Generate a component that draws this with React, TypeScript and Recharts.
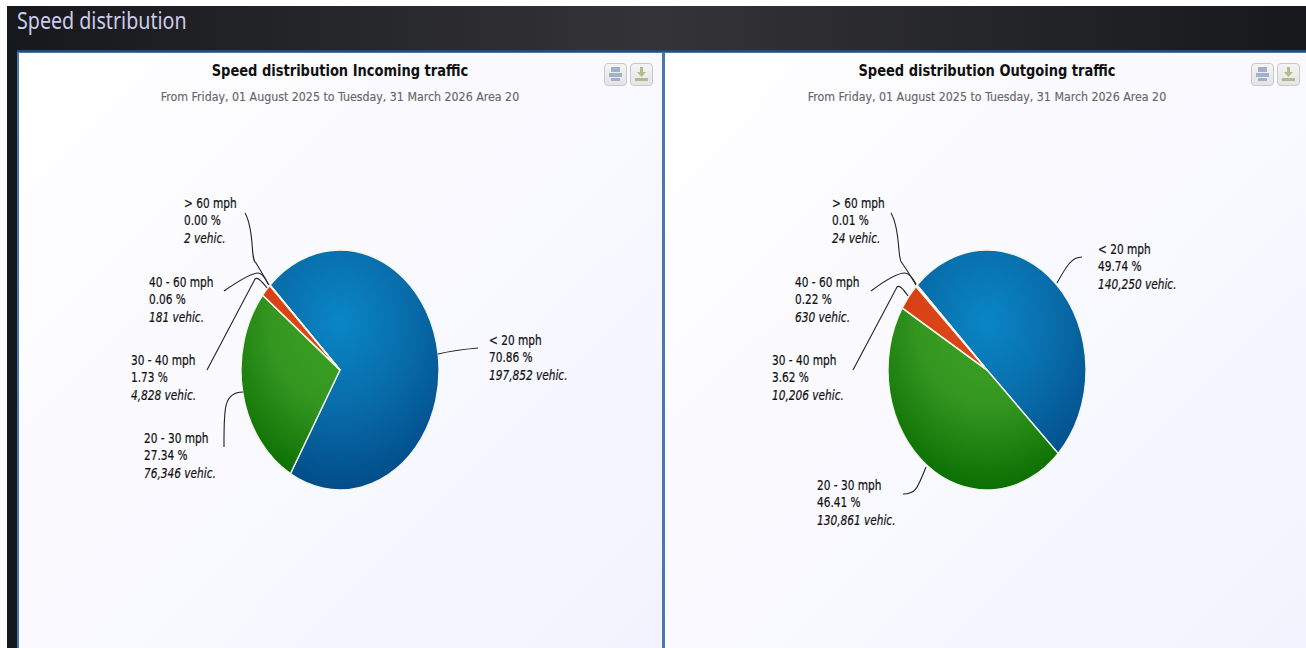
import React from "react";
import { PieChart, Pie, Sector } from "recharts";

const categories = ["< 20 mph", "20 - 30 mph", "30 - 40 mph", "40 - 60 mph", "> 60 mph"];
const incomingVehicles = [197852, 76346, 4828, 181, 2];
const outgoingVehicles = [140250, 130861, 10206, 630, 24];
const incomingPercent = ["70.86", "27.34", "1.73", "0.06", "0.00"];
const outgoingPercent = ["49.74", "46.41", "3.62", "0.22", "0.01"];
const incomingLabels = ["197,852", "76,346", "4,828", "181", "2"];
const outgoingLabels = ["140,250", "130,861", "10,206", "630", "24"];

const FONT = "'DejaVu Sans Condensed', 'DejaVu Sans', sans-serif";
const CX = 322;
const CY = 318;
const RADIUS = 120;
const SQUASH = 0.825;
const GRADS = [
  ["#0a86c6", "#086ca9", "#014b88"],
  ["#3ea224", "#349620", "#086c00"],
  ["#e04818", "#d84216", "#c42c06"],
  ["#e04818", "#d84216", "#c42c06"],
  ["#7a8a99", "#74849a", "#5a6a79"],
];

type Layout = { x: number; y: number; path: string };

// label placement: text origin and leader path, relative to the pie centre
const leftLayout: Layout[] = [
  { x: 149, y: -25, path: "M98 -16 Q115 -20 138 -22" },
  { x: -196, y: 73, path: "M-116 77 C-116 40 -117 22 -97 22" },
  { x: -209, y: -5, path: "M-133 0 L-85 -91 Q-82 -94 -73 -82" },
  { x: -191, y: -83, path: "M-116 -79 Q-90 -97 -82 -97 Q-77 -97 -72 -86" },
  { x: -156, y: -162, path: "M-95 -157 C-85 -140 -90 -110 -84 -107 Q-78 -97 -71 -85" },
];
const rightLayout: Layout[] = [
  { x: 111, y: -116, path: "M70 -87 C80 -105 85 -113 95 -113" },
  { x: -170, y: 120, path: "M-84 124 C-72 124 -70 120 -61 97" },
  { x: -215, y: -5, path: "M-134 0 L-90 -83 Q-87 -86 -79 -74" },
  { x: -192, y: -83, path: "M-116 -79 Q-92 -97 -82 -97 Q-77 -97 -71 -86" },
  { x: -155, y: -162, path: "M-96 -157 C-86 -140 -90 -110 -85 -107 Q-78 -97 -71 -85" },
];

function SpeedPie({ id, left, title, vehicles, percents, labels, layout }: any) {
  const rows = categories.map((name, i) => ({ name, value: vehicles[i] }));
  const renderLabel = (p: any) => {
    const i = p.index;
    const l = layout[i];
    return (
      <g key={i} fontFamily={FONT} fontSize={13.5} fill="#111" stroke="#111" strokeWidth={0.2}>
        <path d={l.path} transform={`translate(${CX} ${CY})`} fill="none" stroke="#222" strokeWidth={1.1} />
        <g transform={`translate(${CX + l.x} ${CY + l.y}) scale(0.87 1)`}>
          <text x={0} y={0}>{categories[i]}</text>
          <text x={0} y={17.5}>{percents[i]} %</text>
          <text x={0} y={35} fontStyle="italic">{labels[i]} vehic.</text>
        </g>
      </g>
    );
  };
  const shape = (p: any) => (
    <g transform={`translate(${CX} 0) scale(${SQUASH} 1) translate(${-CX} 0)`}>
      <Sector {...p} fill={`url(#${id}-g${p.index})`} stroke="#f4f6e8" strokeWidth={1.6} />
    </g>
  );
  return (
    <div style={{ position: "absolute", left, top: 52, width: 644, height: 596 }}>
      <div style={{ position: "absolute", left: 0, width: 644, top: 9, textAlign: "center", fontFamily: FONT, fontWeight: 700, fontSize: 16, color: "#111", lineHeight: "20px", transform: "scaleX(0.905)" }}>{title}</div>
      <div style={{ position: "absolute", left: 0, width: 644, top: 36, textAlign: "center", fontFamily: FONT, fontSize: 13, color: "#666", lineHeight: "18px", transform: "scaleX(0.945)", WebkitTextStroke: "0.15px #666" }}>
        From Friday, 01 August 2025 to Tuesday, 31 March 2026 Area 20
      </div>
      <div style={{ position: "absolute", left: 0, top: 0 }}>
        <PieChart width={644} height={596} margin={{ top: 0, right: 0, bottom: 0, left: 0 }}>
          <defs>
            {GRADS.map((g, i) => (
              <radialGradient key={i} id={`${id}-g${i}`} gradientUnits="userSpaceOnUse" cx={CX} cy={CY - 48} r={172}>
                <stop offset="0" stopColor={g[0]} />
                <stop offset="0.5" stopColor={g[1]} />
                <stop offset="1" stopColor={g[2]} />
              </radialGradient>
            ))}
          </defs>
          <Pie
            data={rows}
            dataKey="value"
            nameKey="name"
            cx={CX}
            cy={CY}
            outerRadius={RADIUS}
            startAngle={135}
            endAngle={-225}
            isAnimationActive={false}
            shape={shape}
            label={renderLabel}
            labelLine={false}
          />
        </PieChart>
      </div>
      <Btn left={586} kind="print" />
      <Btn left={612} kind="save" />
    </div>
  );
}

function Btn({ left, kind }: { left: number; kind: string }) {
  const c = kind === "print" ? "#9fb2ca" : "#b2ba90";
  return (
    <div style={{ position: "absolute", left, top: 11, width: 23, height: 23, boxSizing: "border-box", border: "1px solid #c9c9c9", borderRadius: 4, background: "linear-gradient(#f4f4f4,#e4e4e4)" }}>
      <svg width={21} height={21} style={{ display: "block" }}>
        {kind === "print" ? (
          <g fill={c}>
            <rect x={6} y={3} width={9} height={5} />
            <rect x={4} y={9} width={13} height={4} />
            <rect x={6} y={14} width={9} height={3} />
          </g>
        ) : (
          <g fill={c}>
            <rect x={9} y={3} width={3} height={6} />
            <path d="M6 8 H15 L10.5 13 Z" />
            <rect x={4} y={14} width={13} height={3} />
          </g>
        )}
      </svg>
    </div>
  );
}

export default function App() {
  return (
    <div style={{ position: "fixed", left: 0, top: 0, width: 1306, height: 648, overflow: "hidden", background: "#fff" }}>
      <div style={{ position: "absolute", left: 7, top: 6, right: 0, bottom: 0, background: "linear-gradient(90deg,#17181b 0%,#343438 50%,#17181b 100%)" }} />
      <div style={{ position: "absolute", left: 7, top: 40, width: 11, bottom: 0, background: "#15181c" }} />
      <div style={{ position: "absolute", left: 17, top: 5, fontFamily: "'Noto Sans', sans-serif", fontSize: 23, color: "#ccccea", lineHeight: "30px", transform: "scaleX(0.855)", transformOrigin: "left", whiteSpace: "nowrap" }}>
        Speed distribution
      </div>
      <div style={{ position: "absolute", left: 17, top: 50, right: 0, bottom: 0, background: "#4a78ac" }} />
      <div style={{ position: "absolute", left: 17, top: 50, right: 0, height: 2, background: "#2d4a6c" }} />
      <div style={{ position: "absolute", left: 19, top: 53, width: 643, bottom: 0, background: "linear-gradient(135deg,#ffffff 0%,#f3f3ff 100%)" }} />
      <div style={{ position: "absolute", left: 665, top: 53, right: 0, bottom: 0, background: "linear-gradient(135deg,#ffffff 0%,#f3f3ff 100%)" }} />
      <SpeedPie id="inc" left={18} title="Speed distribution Incoming traffic" vehicles={incomingVehicles} percents={incomingPercent} labels={incomingLabels} layout={leftLayout} />
      <SpeedPie id="out" left={665} title="Speed distribution Outgoing traffic" vehicles={outgoingVehicles} percents={outgoingPercent} labels={outgoingLabels} layout={rightLayout} />
    </div>
  );
}
